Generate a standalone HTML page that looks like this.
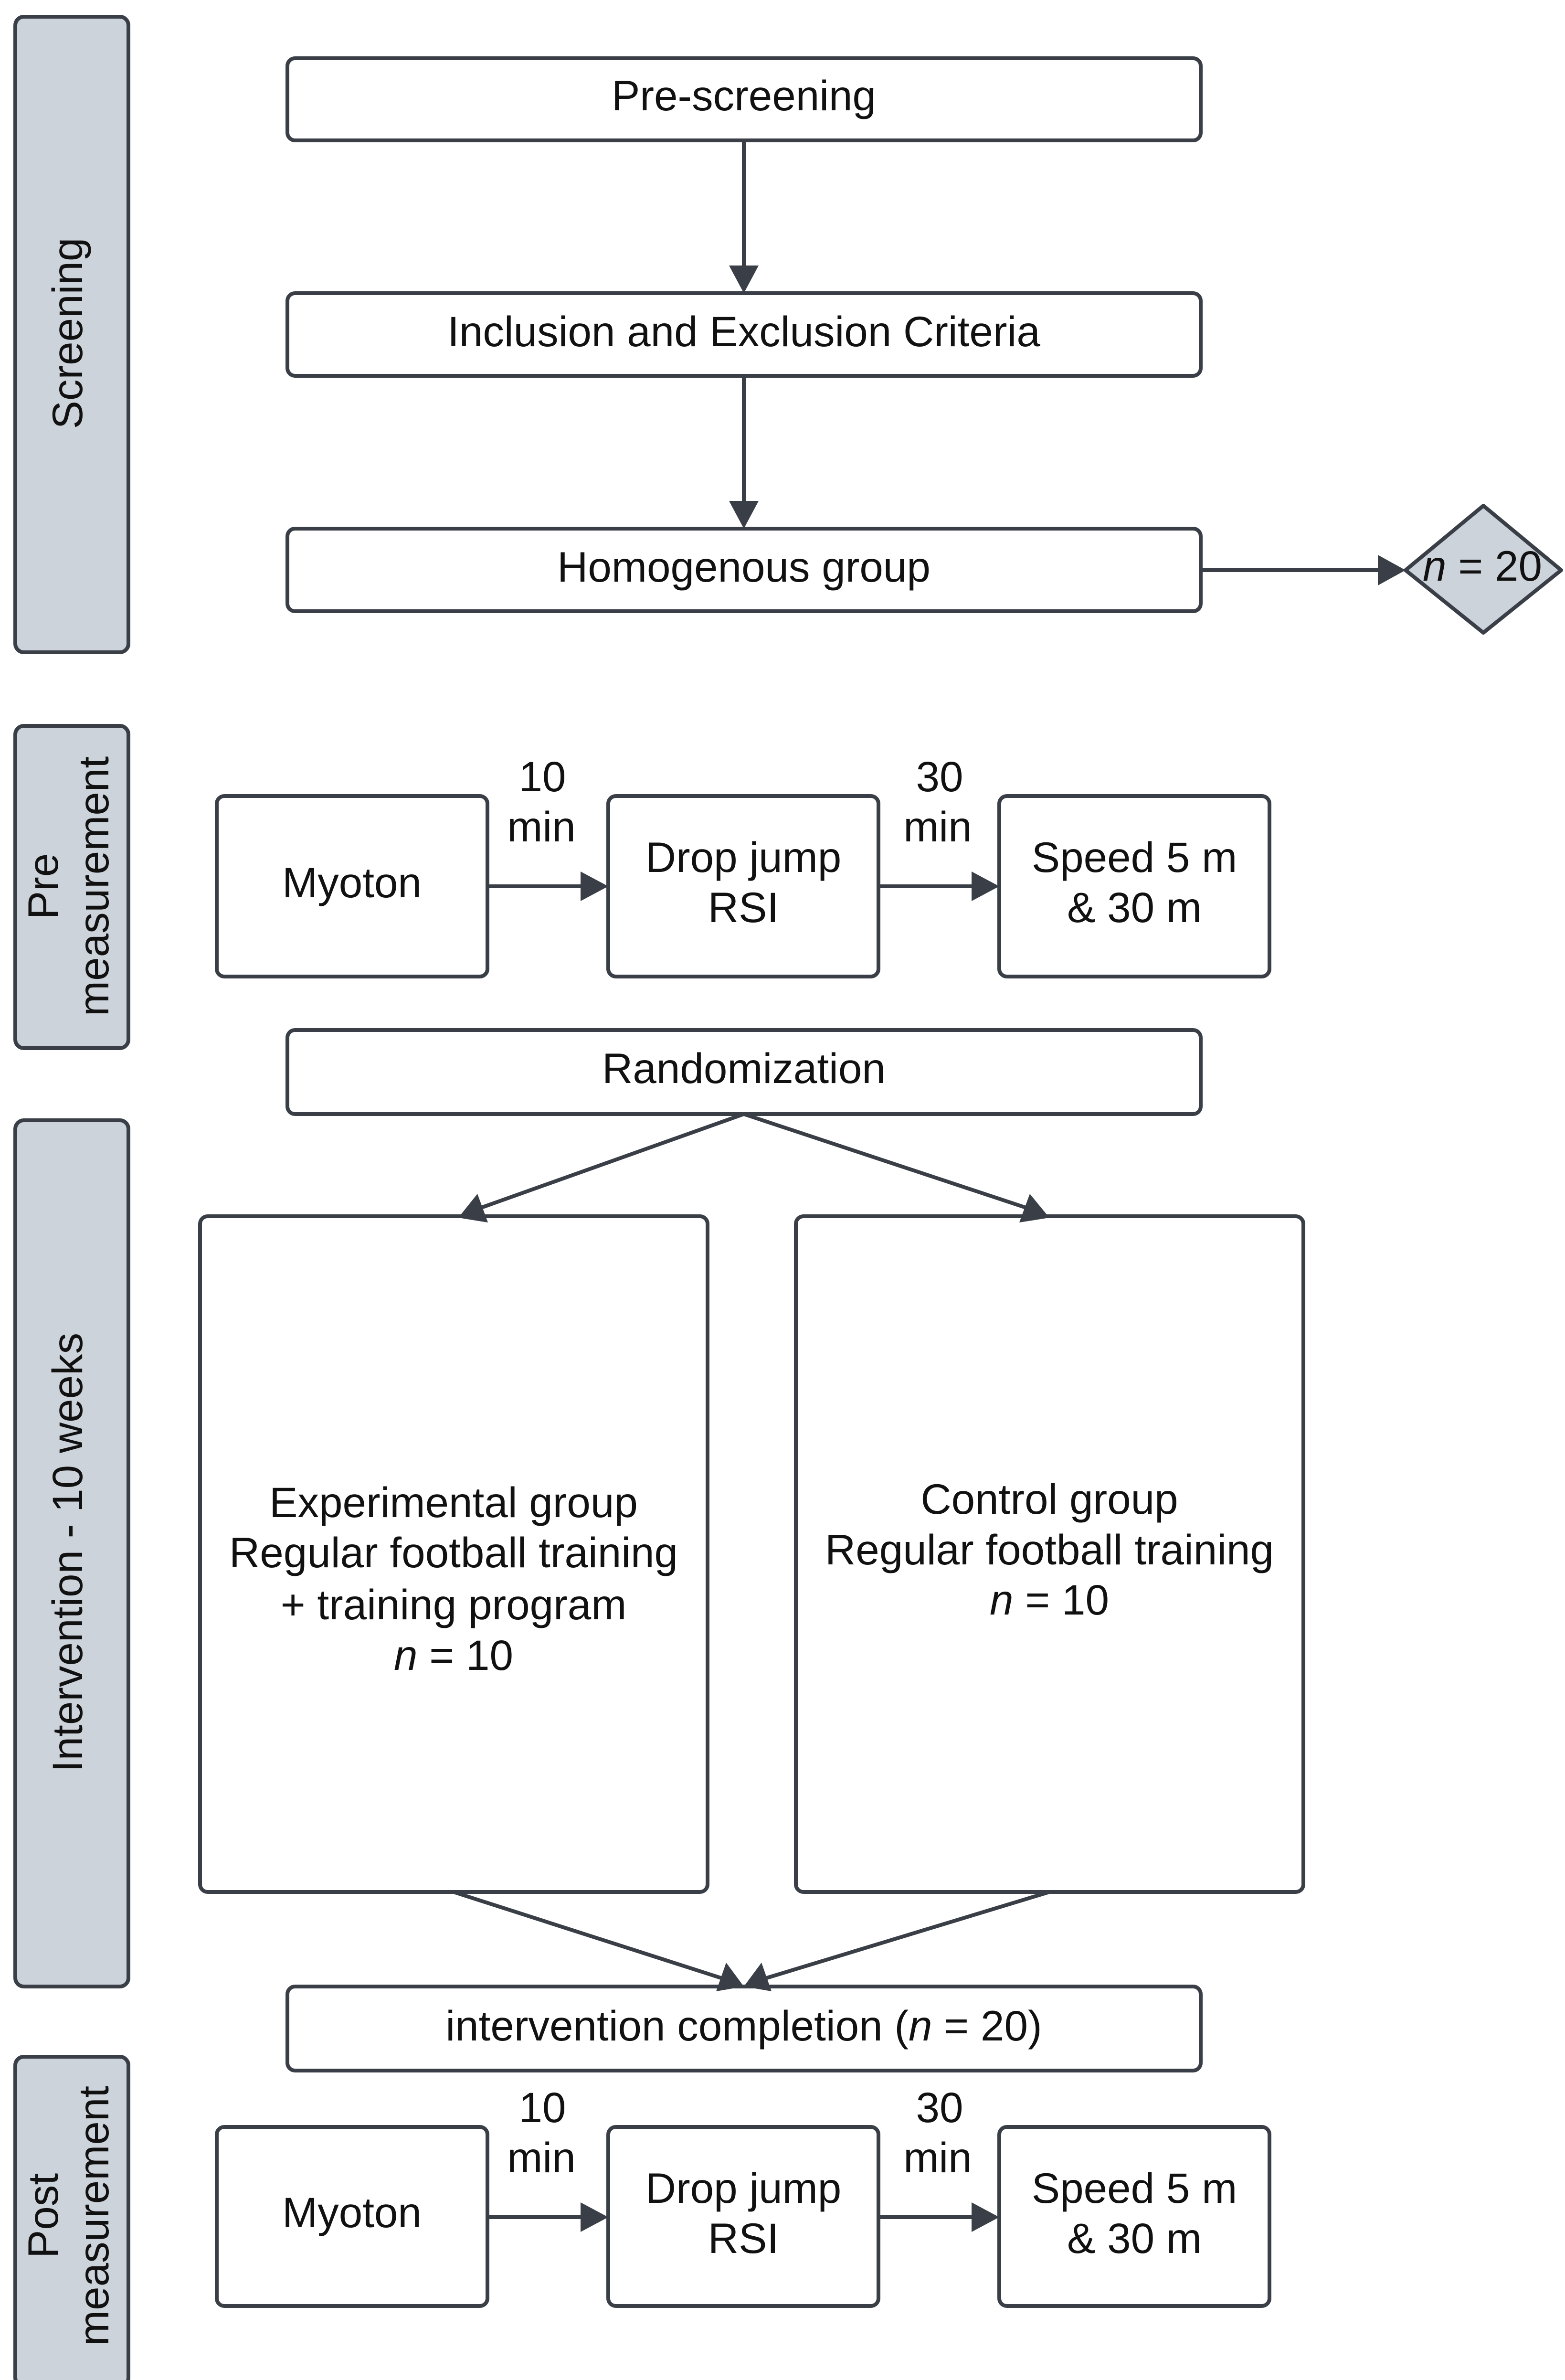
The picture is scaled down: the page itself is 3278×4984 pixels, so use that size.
<!DOCTYPE html>
<html><head><meta charset="utf-8"><style>
html,body{margin:0;padding:0;background:#fff}
svg{display:block}
text{font-family:"Liberation Sans",Arial,sans-serif;fill:#111;font-size:89px;text-anchor:middle;dominant-baseline:central}
</style></head><body>
<svg width="3278" height="4984" viewBox="0 0 3278 4984" xmlns="http://www.w3.org/2000/svg">
<g stroke="#3a3f47" stroke-width="8">
<rect x="32" y="35" width="237" height="1331" rx="18" fill="#cdd3db"/>
<rect x="32" y="1520" width="237" height="675" rx="18" fill="#cdd3db"/>
<rect x="32" y="2346" width="237" height="1814" rx="18" fill="#cdd3db"/>
<rect x="32" y="4307" width="237" height="690" rx="18" fill="#cdd3db"/>
<rect x="602" y="122" width="1913" height="172" rx="16" fill="#fff"/>
<rect x="602" y="614" width="1913" height="173" rx="16" fill="#fff"/>
<rect x="602" y="1107" width="1913" height="173" rx="16" fill="#fff"/>
<polygon points="3107,1059 3270,1194 3107,1325 2944,1194" fill="#cdd3db" stroke-linejoin="round"/>
<rect x="454" y="1667" width="567" height="378" rx="16" fill="#fff"/>
<rect x="1274" y="1667" width="566" height="378" rx="16" fill="#fff"/>
<rect x="2093" y="1667" width="566" height="378" rx="16" fill="#fff"/>
<rect x="602" y="2157" width="1913" height="176" rx="16" fill="#fff"/>
<rect x="419" y="2547" width="1063" height="1415" rx="16" fill="#fff"/>
<rect x="1667" y="2547" width="1063" height="1415" rx="16" fill="#fff"/>
<rect x="602" y="4160" width="1913" height="176" rx="16" fill="#fff"/>
<rect x="454" y="4454" width="567" height="375" rx="16" fill="#fff"/>
<rect x="1274" y="4454" width="566" height="375" rx="16" fill="#fff"/>
<rect x="2093" y="4454" width="566" height="375" rx="16" fill="#fff"/>
<line x1="1558" y1="294" x2="1558" y2="560"/>
<line x1="1558" y1="787" x2="1558" y2="1053"/>
<line x1="2515" y1="1194" x2="2890" y2="1194"/>
<line x1="1021" y1="1856" x2="1220" y2="1856"/>
<line x1="1840" y1="1856" x2="2040" y2="1856"/>
<line x1="1021" y1="4643" x2="1220" y2="4643"/>
<line x1="1840" y1="4643" x2="2040" y2="4643"/>
<line x1="1558" y1="2333" x2="1005" y2="2530"/>
<line x1="1558" y1="2333" x2="2152" y2="2530"/>
<line x1="950" y1="3962" x2="1510" y2="4142"/>
<line x1="2198" y1="3962" x2="1606" y2="4142"/>
</g>
<g fill="#3a3f47">
<polygon points="1527,556 1589,556 1558,614"/>
<polygon points="1527,1049 1589,1049 1558,1107"/>
<polygon points="2886,1162 2886,1226 2944,1194"/>
<polygon points="1216,1825 1216,1887 1274,1856"/>
<polygon points="2035,1825 2035,1887 2093,1856"/>
<polygon points="1216,4612 1216,4674 1274,4643"/>
<polygon points="2035,4612 2035,4674 2093,4643"/>
<polygon points="960,2550 1000,2500 1022,2560"/>
<polygon points="2198,2550 2135,2560 2157,2500"/>
<polygon points="1558,4160 1500,4170 1521,4110"/>
<polygon points="1558,4160 1595,4110 1616,4170"/>
</g>
<text transform="translate(141,698) rotate(-90)">Screening</text>
<text transform="translate(90,1856) rotate(-90)">Pre</text>
<text transform="translate(196,1856) rotate(-90)">measurement</text>
<text transform="translate(141,3251) rotate(-90)">Intervention - 10 weeks</text>
<text transform="translate(90,4640) rotate(-90)">Post</text>
<text transform="translate(196,4640) rotate(-90)">measurement</text>
<text x="1558" y="200">Pre-screening</text>
<text x="1558" y="694">Inclusion and Exclusion Criteria</text>
<text x="1558" y="1187">Homogenous group</text>
<text x="3105" y="1185"><tspan font-style="italic">n</tspan> = 20</text>
<text x="737" y="1848">Myoton</text>
<text x="1557" y="1795">Drop jump</text>
<text x="1557" y="1900">RSI</text>
<text x="2376" y="1795">Speed 5 m</text>
<text x="2376" y="1900">&amp; 30 m</text>
<text x="1136" y="1626">10</text>
<text x="1134" y="1731">min</text>
<text x="1968" y="1626">30</text>
<text x="1964" y="1731">min</text>
<text x="1558" y="2237">Randomization</text>
<text x="950" y="3146">Experimental group</text>
<text x="950" y="3251">Regular football training</text>
<text x="950" y="3360">+ training program</text>
<text x="950" y="3466"><tspan font-style="italic">n</tspan> = 10</text>
<text x="2198" y="3139">Control group</text>
<text x="2198" y="3245">Regular football training</text>
<text x="2198" y="3350"><tspan font-style="italic">n</tspan> = 10</text>
<text x="1558" y="4242">intervention completion (<tspan font-style="italic">n</tspan> = 20)</text>
<text x="737" y="4633">Myoton</text>
<text x="1557" y="4582">Drop jump</text>
<text x="1557" y="4687">RSI</text>
<text x="2376" y="4582">Speed 5 m</text>
<text x="2376" y="4687">&amp; 30 m</text>
<text x="1136" y="4413">10</text>
<text x="1134" y="4518">min</text>
<text x="1968" y="4413">30</text>
<text x="1964" y="4518">min</text>
</svg>
</body></html>
